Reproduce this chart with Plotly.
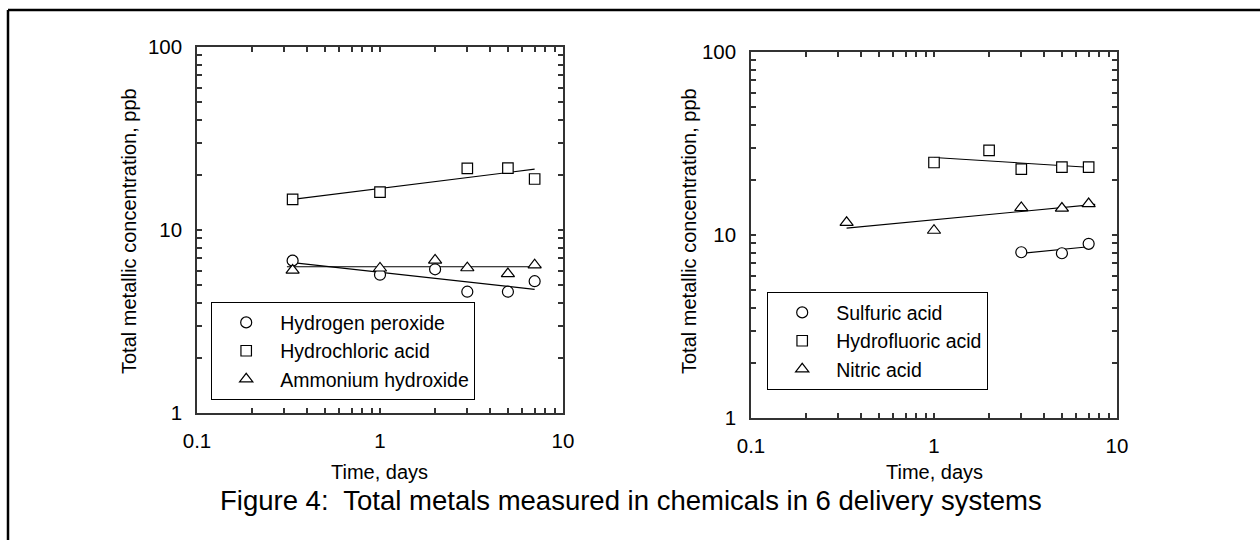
import plotly.graph_objects as go

# ---------------- data ----------------
# Left panel
t_h2o2 = [0.333, 1, 2, 3, 5, 7]
h2o2 = [6.8, 5.7, 6.1, 4.6, 4.6, 5.25]
t_hcl = [0.333, 1, 3, 5, 7]
hcl = [14.7, 16.1, 21.7, 21.8, 19.0]
t_nh4oh = [0.333, 1, 2, 3, 5, 7]
nh4oh = [6.02, 6.19, 6.84, 6.21, 5.76, 6.44]

fit_h2o2_t = [0.333, 7]
fit_h2o2 = [6.63, 4.74]
fit_hcl_t = [0.333, 7]
fit_hcl = [14.7, 21.5]
fit_nh4oh_t = [0.31, 7.6]
fit_nh4oh = [6.3, 6.3]

# Right panel
t_h2so4 = [3, 5, 7]
h2so4 = [8.05, 7.95, 8.95]
t_hf = [1, 2, 3, 5, 7]
hf = [24.9, 29.0, 22.9, 23.5, 23.5]
t_hno3 = [0.333, 1, 3, 5, 7]
hno3 = [11.7, 10.6, 14.1, 14.0, 14.8]

fit_h2so4_t = [3, 7]
fit_h2so4 = [7.94, 8.63]
fit_hf_t = [1, 7.3]
fit_hf = [26.5, 23.4]
fit_hno3_t = [0.333, 7.6]
fit_hno3 = [10.9, 14.7]

# ticks: all log-cycle ticks (labels only on decades) + decade ticks
x_ticks_all = [0.1, 0.2, 0.3, 0.4, 0.5, 0.6, 0.7, 0.8, 0.9,
               1, 2, 3, 4, 5, 6, 7, 8, 9, 10]
x_ticks_text = ["0.1", "", "", "", "", "", "", "", "",
                "1", "", "", "", "", "", "", "", "", "10"]
x_decades = [0.1, 1, 10]
y_ticks_all = [1, 2, 3, 4, 5, 6, 7, 8, 9,
               10, 20, 30, 40, 50, 60, 70, 80, 90, 100]
y_ticks_text = ["1", "", "", "", "", "", "", "", "",
                "10", "", "", "", "", "", "", "", "", "100"]
y_decades = [1, 10, 100]

x_title = "Time, days"
y_title = "Total metallic concentration, ppb"
caption = "Figure 4:\u00a0 Total metals measured in chemicals in 6 delivery systems"

# ---------------- figure ----------------
W, H = 1260, 540
FONT = "Liberation Sans, Arial, Helvetica, sans-serif"
AX = "#333333"

fig = go.Figure()


def add_fit(x, y, xa, ya):
    fig.add_trace(go.Scatter(x=x, y=y, mode="lines", xaxis=xa, yaxis=ya,
                             line=dict(color="black", width=1.1),
                             showlegend=False, hoverinfo="skip"))


def add_pts(x, y, name, symbol, xa, ya, legend, size=11):
    fig.add_trace(go.Scatter(x=x, y=y, mode="markers", name=name, xaxis=xa, yaxis=ya,
                             legend=legend,
                             marker=dict(symbol=symbol, size=size, color="white",
                                         line=dict(color="black", width=1.2))))


# left
add_fit(fit_hcl_t, fit_hcl, "x", "y")
add_fit(fit_h2o2_t, fit_h2o2, "x", "y")
add_fit(fit_nh4oh_t, fit_nh4oh, "x", "y")
add_pts(t_h2o2, h2o2, "Hydrogen peroxide", "circle", "x", "y", "legend")
add_pts(t_hcl, hcl, "Hydrochloric acid", "square", "x", "y", "legend", 10.5)
add_pts(t_nh4oh, nh4oh, "Ammonium hydroxide", "triangle-up", "x", "y", "legend", 11.5)

# right
add_fit(fit_hf_t, fit_hf, "x2", "y2")
add_fit(fit_hno3_t, fit_hno3, "x2", "y2")
add_fit(fit_h2so4_t, fit_h2so4, "x2", "y2")
add_pts(t_h2so4, h2so4, "Sulfuric acid", "circle", "x2", "y2", "legend2")
add_pts(t_hf, hf, "Hydrofluoric acid", "square", "x2", "y2", "legend2", 10.5)
add_pts(t_hno3, hno3, "Nitric acid", "triangle-up", "x2", "y2", "legend2", 11.5)


def axis(rng, domain, anchor, vals, text):
    return dict(type="log", range=rng, domain=domain, anchor=anchor,
                tickmode="array", tickvals=vals, ticktext=text,
                ticks="inside", ticklen=5, tickwidth=1.6, tickcolor=AX,
                showline=True, linecolor=AX, linewidth=1.5, mirror="allticks",
                showgrid=False, zeroline=False, ticklabelstandoff=9,
                tickfont=dict(family=FONT, size=20.5, color="black"))


def long_ticks(rng, over, anchor, vals):
    return dict(type="log", range=rng, overlaying=over, anchor=anchor,
                tickmode="array", tickvals=vals,
                ticks="inside", ticklen=11, tickwidth=1.6, tickcolor=AX,
                showline=False, mirror="ticks", showticklabels=False,
                showgrid=False, zeroline=False)


def px_x(p):
    return p / W


def px_y(p):
    return 1 - p / H


legend_common = dict(xanchor="left", yanchor="top", bgcolor="white",
                     bordercolor="black", borderwidth=1.2,
                     font=dict(family=FONT, size=19.5, color="black"),
                     itemwidth=58, tracegroupgap=0)

fig.update_layout(
    width=W, height=H,
    margin=dict(l=0, r=0, t=0, b=0, autoexpand=False),
    paper_bgcolor="white", plot_bgcolor="white",
    font=dict(family=FONT, color="black"),
    xaxis=axis([-1, 1], [px_x(197), px_x(563)], "y", x_ticks_all, x_ticks_text),
    yaxis=axis([0, 2], [px_y(413), px_y(47)], "x", y_ticks_all, y_ticks_text),
    xaxis2=axis([-1, 1], [px_x(751), px_x(1117)], "y2", x_ticks_all, x_ticks_text),
    yaxis2=axis([0, 2], [px_y(418), px_y(52)], "x2", y_ticks_all, y_ticks_text),
    xaxis3=long_ticks([-1, 1], "x", "y", x_decades),
    yaxis3=long_ticks([0, 2], "y", "x", y_decades),
    xaxis4=long_ticks([-1, 1], "x2", "y2", x_decades),
    yaxis4=long_ticks([0, 2], "y2", "x2", y_decades),
    legend=dict(x=px_x(211), y=px_y(302), **legend_common),
    legend2=dict(x=px_x(767), y=px_y(292), **legend_common),
)

annotations = [
    dict(text=y_title, x=px_x(129), y=px_y(231), textangle=-90, size=20),
    dict(text=y_title, x=px_x(689), y=px_y(231), textangle=-90, size=20),
    dict(text=x_title, x=px_x(379), y=px_y(472), textangle=0, size=20),
    dict(text=x_title, x=px_x(934), y=px_y(472), textangle=0, size=20),
    dict(text=caption, x=px_x(631), y=px_y(500), textangle=0, size=27.5),
]
for a in annotations:
    fig.add_annotation(text=a["text"], x=a["x"], y=a["y"], xref="paper", yref="paper",
                       xanchor="center", yanchor="middle", showarrow=False,
                       textangle=a["textangle"],
                       font=dict(family=FONT, size=a["size"], color="black"))

# outer frame (top and left edges of the figure box)
fig.add_shape(type="line", xref="paper", yref="paper",
              x0=px_x(8), x1=1.0, y0=px_y(10), y1=px_y(10),
              line=dict(color="black", width=2.5))
fig.add_shape(type="line", xref="paper", yref="paper",
              x0=px_x(8), x1=px_x(8), y0=px_y(10), y1=0,
              line=dict(color="black", width=2.5))

fig.write_html("out.html")
